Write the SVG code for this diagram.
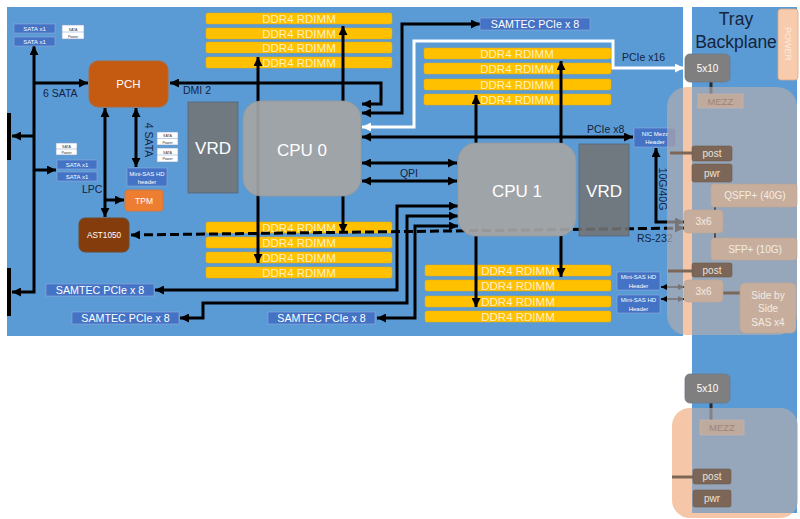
<svg xmlns="http://www.w3.org/2000/svg" width="800" height="519" viewBox="0 0 800 519">
<defs>
<style>
text{font-family:"Liberation Sans",Arial,sans-serif}
.lbl{font-size:10.5px;fill:#14233f}
.mid{text-anchor:middle}
.board{fill:#5B9BD5}
.dimm rect{fill:#FFC000;stroke:#E8AE00;stroke-width:0.5}
.dimm text{fill:#FFF0C2;font-size:11.5px;text-anchor:middle}
.bb{fill:#4472C4;stroke:#8FAADC;stroke-width:0.6}
.bt{fill:#fff;font-size:6px;text-anchor:middle}
.sp rect{fill:#fff;stroke:#7F9CC9;stroke-width:0.6}
.sp line{stroke:#7F9CC9;stroke-width:0.5}
.sp text{fill:#333;font-size:3.6px;text-anchor:middle}
.cpu{fill:#A5A5A5;fill-opacity:0.92;stroke:#989898;stroke-width:0.8}
.vrd{fill:#747474;fill-opacity:0.88;stroke:#56647C;stroke-width:0.8}
.big{fill:#fff;font-size:17px;text-anchor:middle}
.c{stroke:#000;stroke-width:3;fill:none}
.cw{stroke:#fff;stroke-width:3;fill:none}
.cs{stroke:#000;stroke-width:1.6;fill:none}
.tan{fill:#C7AE9C;stroke:#BCA593;stroke-width:0.6}
.tant{fill:#F3EBE4;font-size:10px;text-anchor:middle}
.brn{fill:#7B6657;stroke:#6E5A4C;stroke-width:0.6}
.brnt{fill:#EDE3DA;font-size:10px;text-anchor:middle}
.tc{stroke:#7B6657;stroke-width:3;fill:none}
.ov{fill:#B2ACB0;fill-opacity:0.68}
.peach{fill:#F5C7A8}
</style>
<marker id="ah" viewBox="0 0 10 10" refX="10" refY="5" markerWidth="9" markerHeight="9" markerUnits="userSpaceOnUse" orient="auto-start-reverse"><path d="M0,0 L10,5 L0,10 z" fill="#000"/></marker>
<marker id="ahw" viewBox="0 0 10 10" refX="10" refY="5" markerWidth="9" markerHeight="9" markerUnits="userSpaceOnUse" orient="auto-start-reverse"><path d="M0,0 L10,5 L0,10 z" fill="#fff"/></marker>
<marker id="ahs" viewBox="0 0 10 10" refX="10" refY="5" markerWidth="6" markerHeight="6" markerUnits="userSpaceOnUse" orient="auto-start-reverse"><path d="M0,0 L10,5 L0,10 z" fill="#000"/></marker>
<clipPath id="nogap"><rect x="0" y="0" width="683" height="519"/><rect x="692" y="0" width="108" height="519"/></clipPath>
<clipPath id="tray"><rect x="692" y="0" width="105" height="513"/></clipPath>
</defs>

<rect width="800" height="519" fill="#fff"/>

<!-- mezz card backgrounds (peach) -->
<rect class="peach" x="667" y="87" width="130" height="248" rx="20"/>
<rect class="peach" x="672" y="408" width="126" height="110" rx="18"/>

<!-- board and tray -->
<rect class="board" x="7" y="7" width="676" height="329"/>
<rect class="board" x="692" y="7" width="105" height="506"/>

<!-- DIMMs -->
<g id="ddr-cpu0-top" class="dimm">
<rect x="206" y="13" width="186" height="11" rx="2"/><text x="299" y="22.6">DDR4 RDIMM</text>
<rect x="206" y="28" width="186" height="11" rx="2"/><text x="299" y="37.6">DDR4 RDIMM</text>
<rect x="206" y="42" width="186" height="11" rx="2"/><text x="299" y="51.6">DDR4 RDIMM</text>
<rect x="206" y="57" width="186" height="11" rx="2"/><text x="299" y="66.6">DDR4 RDIMM</text>
</g>
<g id="ddr-cpu1-top" class="dimm">
<rect x="424" y="48" width="187" height="11" rx="2"/><text x="517" y="57.6">DDR4 RDIMM</text>
<rect x="424" y="63" width="187" height="11" rx="2"/><text x="517" y="72.6">DDR4 RDIMM</text>
<rect x="424" y="79" width="187" height="11" rx="2"/><text x="517" y="88.6">DDR4 RDIMM</text>
<rect x="424" y="94" width="187" height="11" rx="2"/><text x="517" y="103.6">DDR4 RDIMM</text>
</g>
<g id="ddr-cpu0-bottom" class="dimm">
<rect x="206" y="222" width="186" height="11" rx="2"/><text x="299" y="231.6">DDR4 RDIMM</text>
<rect x="206" y="237" width="186" height="11" rx="2"/><text x="299" y="246.6">DDR4 RDIMM</text>
<rect x="206" y="252" width="186" height="11" rx="2"/><text x="299" y="261.6">DDR4 RDIMM</text>
<rect x="206" y="267" width="186" height="11" rx="2"/><text x="299" y="276.6">DDR4 RDIMM</text>
</g>
<g id="ddr-cpu1-bottom" class="dimm">
<rect x="425" y="265" width="186" height="11" rx="2"/><text x="518" y="274.6">DDR4 RDIMM</text>
<rect x="425" y="280" width="186" height="11" rx="2"/><text x="518" y="289.6">DDR4 RDIMM</text>
<rect x="425" y="296" width="186" height="11" rx="2"/><text x="518" y="305.6">DDR4 RDIMM</text>
<rect x="425" y="311" width="186" height="11" rx="2"/><text x="518" y="320.6">DDR4 RDIMM</text>
</g>

<!-- connectors -->
<g id="connectors">
<rect x="7" y="113" width="4" height="47" fill="#000"/>
<rect x="7" y="268" width="4" height="48" fill="#000"/>
<path class="c" d="M12,292 L34,292 L34,46" marker-start="url(#ah)" marker-end="url(#ah)"/>
<path class="c" d="M34,83 L88,83" marker-end="url(#ah)"/>
<path class="c" d="M34,136 L12,136" marker-end="url(#ah)"/>
<path class="c" d="M34,170 L56,170" marker-end="url(#ah)"/>
<path class="c" d="M105,108 L105,217" marker-start="url(#ah)" marker-end="url(#ah)"/>
<path class="c" d="M105,200 L124,200" marker-end="url(#ah)"/>
<path class="c" d="M136,108 L136,167" marker-start="url(#ah)" marker-end="url(#ah)"/>
<path class="c" d="M170,83 L381,83 L381,104 L362,104" marker-start="url(#ah)" marker-end="url(#ah)"/>
<path class="c" d="M362,113 L402,113 L402,24 L480,24" marker-start="url(#ah)" marker-end="url(#ah)"/>
<path class="cw" d="M362,127 L414,127 L414,41 L613,41 L613,68 L684,68" marker-start="url(#ahw)" marker-end="url(#ahw)"/>
<path class="c" d="M362,137 L633,137" marker-start="url(#ah)" marker-end="url(#ah)"/>
<path class="c" d="M362,163 L457,163" marker-start="url(#ah)" marker-end="url(#ah)"/>
<path class="c" d="M362,181 L457,181" marker-start="url(#ah)" marker-end="url(#ah)"/>
<path class="c" d="M258,57 L258,263" marker-start="url(#ah)" marker-end="url(#ah)"/>
<path class="c" d="M343,101 L343,26" marker-end="url(#ah)"/>
<path class="c" d="M343,196 L343,233" marker-end="url(#ah)"/>
<path class="c" d="M476,143 L476,95" marker-end="url(#ah)"/>
<path class="c" d="M561,143 L561,61" marker-end="url(#ah)"/>
<path class="c" d="M476,236 L476,307" marker-end="url(#ah)"/>
<path class="c" d="M561,236 L561,277" marker-end="url(#ah)"/>
<path class="c" d="M458,206 L397,206 L397,290 L155,290" marker-start="url(#ah)" marker-end="url(#ah)"/>
<path class="c" d="M458,216 L407,216 L407,303 L203,303 L203,318 L180,318" marker-start="url(#ah)" marker-end="url(#ah)"/>
<path class="c" d="M458,226 L415,226 L415,318 L377,318" marker-start="url(#ah)" marker-end="url(#ah)"/>
<path class="c" d="M656,148 L656,222 L684,222" marker-start="url(#ah)" marker-end="url(#ah)"/>
<path class="c" d="M131,235 L684,228" stroke-dasharray="9 4" marker-start="url(#ah)" marker-end="url(#ah)"/>
<path class="cs" d="M661,287 L684,287" marker-start="url(#ahs)" marker-end="url(#ahs)"/>
<path class="cs" d="M661,299 L684,299" marker-start="url(#ahs)" marker-end="url(#ahs)"/>
<path d="M711,82 L711,94" stroke="#2a2a2a" stroke-width="3"/>
<path d="M711,403 L711,420" stroke="#2a2a2a" stroke-width="3"/>
</g>

<!-- labels -->
<g id="labels">
<text class="lbl" x="43" y="97">6 SATA</text>
<text class="lbl" x="183" y="94">DMI 2</text>
<text class="lbl" x="82" y="193">LPC</text>
<text class="lbl mid" transform="translate(145,140) rotate(90)">4 SATA</text>
<text class="lbl mid" x="409" y="177">QPI</text>
<text class="lbl" x="587" y="133">PCIe x8</text>
<text class="lbl" x="622" y="61">PCIe x16</text>
<text class="lbl" x="637" y="242">RS-232</text>
<text class="lbl mid" transform="translate(659,189) rotate(90)">10G/40G</text>
</g>

<!-- nodes -->
<g id="sata-top1"><rect class="bb" x="14" y="24" width="41" height="9"/><text class="bt" x="34.5" y="31">SATA x1</text></g>
<g id="sata-top2"><rect class="bb" x="14" y="37" width="41" height="9"/><text class="bt" x="34.5" y="44">SATA x1</text></g>
<g id="satapwr-top" class="sp"><rect x="62" y="25" width="22" height="14"/><line x1="62" y1="32" x2="84" y2="32"/><text x="73" y="30.5">SATA</text><text x="73" y="37.5">Power</text></g>
<g id="satapwr-mid" class="sp"><rect x="56" y="143" width="21" height="12"/><line x1="56" y1="149" x2="77" y2="149"/><text x="66.5" y="147.8">SATA</text><text x="66.5" y="153.8">Power</text></g>
<g id="sata-mid1"><rect class="bb" x="57" y="160" width="40" height="9"/><text class="bt" x="77" y="167">SATA x1</text></g>
<g id="sata-mid2"><rect class="bb" x="57" y="172" width="40" height="9"/><text class="bt" x="77" y="179">SATA x1</text></g>
<g id="satapwr-r1" class="sp"><rect x="157" y="132" width="21" height="13"/><line x1="157" y1="138.5" x2="178" y2="138.5"/><text x="167.5" y="137.3">SATA</text><text x="167.5" y="143.6">Power</text></g>
<g id="satapwr-r2" class="sp"><rect x="157" y="148" width="21" height="14"/><line x1="157" y1="155" x2="178" y2="155"/><text x="167.5" y="153.6">SATA</text><text x="167.5" y="160.4">Power</text></g>

<g id="pch"><rect x="89" y="61" width="79" height="46" rx="9" fill="#C55A11" stroke="#AE6A3A"/><text x="128.5" y="88" fill="#fff" font-size="11.5" text-anchor="middle">PCH</text></g>
<g id="minisas-left"><rect class="bb" x="127" y="168" width="40" height="18"/><text class="bt" x="147" y="175.5">Mini-SAS HD</text><text class="bt" x="147" y="183.5">header</text></g>
<g id="tpm"><rect x="125" y="190" width="38" height="21" rx="3" fill="#ED7D31" stroke="#D6773A"/><text x="144" y="204" fill="#fff" font-size="8.5" text-anchor="middle">TPM</text></g>
<g id="ast1050"><rect x="79" y="218" width="50" height="34" rx="6" fill="#843C0C" stroke="#6E4A2A"/><text x="104" y="238" fill="#fff" font-size="8.2" text-anchor="middle">AST1050</text></g>

<g id="vrd0"><rect class="vrd" x="188" y="102" width="50" height="91"/><text class="big" x="213" y="154">VRD</text></g>
<g id="cpu0"><rect class="cpu" x="243" y="101" width="118" height="95" rx="18"/><text class="big" x="302" y="156">CPU 0</text></g>
<g id="cpu1"><rect class="cpu" x="458" y="143" width="118" height="93" rx="18"/><text class="big" x="517" y="197">CPU 1</text></g>
<g id="vrd1"><rect class="vrd" x="579" y="144" width="50" height="92"/><text class="big" x="604" y="197">VRD</text></g>

<g id="samtec-top"><rect class="bb" x="480" y="18" width="110" height="12"/><text x="535" y="28" fill="#fff" font-size="10.7" text-anchor="middle">SAMTEC PCIe x 8</text></g>
<g id="samtec-b1"><rect class="bb" x="46" y="284" width="108" height="12"/><text x="100" y="294" fill="#fff" font-size="10.7" text-anchor="middle">SAMTEC PCIe x 8</text></g>
<g id="samtec-b2"><rect class="bb" x="72" y="312" width="107" height="12"/><text x="125.5" y="322" fill="#fff" font-size="10.7" text-anchor="middle">SAMTEC PCIe x 8</text></g>
<g id="samtec-b3"><rect class="bb" x="268" y="312" width="107" height="12"/><text x="321.5" y="322" fill="#fff" font-size="10.7" text-anchor="middle">SAMTEC PCIe x 8</text></g>

<g id="nic-mezz"><rect class="bb" x="634" y="128" width="42" height="19"/><text class="bt" x="655" y="136">NIC Mezz</text><text class="bt" x="655" y="143.5">Header</text></g>
<g id="minisas-r1"><rect class="bb" x="617" y="272" width="43" height="18"/><text class="bt" x="638.5" y="279">Mini-SAS HD</text><text class="bt" x="638.5" y="287.5">Header</text></g>
<g id="minisas-r2"><rect class="bb" x="617" y="295" width="43" height="18"/><text class="bt" x="638.5" y="302">Mini-SAS HD</text><text class="bt" x="638.5" y="310.5">Header</text></g>

<!-- translucent mezz overlays -->
<rect class="ov" x="667" y="87" width="130" height="248" rx="20" clip-path="url(#nogap)"/>
<rect class="ov" x="672" y="408" width="126" height="110" rx="18" clip-path="url(#tray)"/>

<!-- tray backplane -->
<g id="tray-title"><text x="736" y="25" fill="#15243d" font-size="17.5" text-anchor="middle">Tray</text><text x="736" y="48" fill="#15243d" font-size="17.5" text-anchor="middle">Backplane</text></g>
<g id="power"><rect x="778" y="9" width="20" height="71" rx="3" fill="#F8CBAD" stroke="#D9A88A" stroke-width="0.8"/><text transform="translate(784.8,44) rotate(90)" fill="#FCEBDF" font-size="9" text-anchor="middle">POWER</text></g>

<g id="tray-connectors">
<path class="tc" d="M670,153 L692,153"/>
<path class="tc" d="M668,271 L692,271"/>
<path class="tc" d="M672,477 L693,477"/>
<path class="tc" d="M723,293 L740,293"/>
<path d="M715,207 L715,210 M715,233 L715,238" stroke="#5B4B40" stroke-width="2"/>
</g>

<g id="x5x10-a"><rect x="685" y="54" width="45" height="28" rx="5" fill="#7F7F7F" stroke="#6D7A8C" stroke-width="0.8"/><text x="707.5" y="72" fill="#fff" font-size="10" text-anchor="middle">5x10</text></g>
<g id="mezz-a"><rect x="698" y="94" width="45" height="14" fill="#BFAA9E" stroke="#C9B6AB" stroke-width="0.6"/><text x="720.5" y="104.5" fill="#A08575" font-size="9.5" text-anchor="middle">MEZZ</text></g>
<g id="post-a"><rect class="brn" x="692" y="146" width="40" height="15" rx="2"/><text class="brnt" x="712" y="157">post</text></g>
<g id="pwr-a"><rect class="brn" x="692" y="164" width="40" height="18" rx="2"/><text class="brnt" x="712" y="177">pwr</text></g>
<g id="qsfp"><rect class="tan" x="711" y="184" width="86" height="23" rx="3"/><text class="tant" x="755" y="199">QSFP+ (40G)</text></g>
<g id="x3x6-a"><rect class="tan" x="684" y="210" width="39" height="23" rx="4"/><text class="tant" x="703.5" y="225">3x6</text></g>
<g id="sfp"><rect class="tan" x="711" y="238" width="86" height="22" rx="3"/><text class="tant" x="755" y="252.5">SFP+ (10G)</text></g>
<g id="post-b"><rect class="brn" x="692" y="263" width="40" height="14" rx="2"/><text class="brnt" x="712" y="273.5">post</text></g>
<g id="x3x6-b"><rect class="tan" x="684" y="280" width="39" height="22" rx="4"/><text class="tant" x="703.5" y="294.5">3x6</text></g>
<g id="sidebyside"><rect class="tan" x="740" y="283" width="56" height="50" rx="5"/><text class="tant" x="768" y="298.5">Side by</text><text class="tant" x="768" y="312">Side</text><text class="tant" x="768" y="325.5">SAS x4</text></g>

<g id="x5x10-b"><rect x="685" y="374" width="45" height="29" rx="5" fill="#7F7F7F" stroke="#6D7A8C" stroke-width="0.8"/><text x="707.5" y="392" fill="#fff" font-size="10" text-anchor="middle">5x10</text></g>
<g id="mezz-b"><rect x="700" y="420" width="44" height="15" fill="#BFAA9E" stroke="#C9B6AB" stroke-width="0.6"/><text x="722" y="431" fill="#A08575" font-size="9.5" text-anchor="middle">MEZZ</text></g>
<g id="post-c"><rect class="brn" x="693" y="469" width="38" height="15" rx="2"/><text class="brnt" x="712" y="480">post</text></g>
<g id="pwr-c"><rect class="brn" x="693" y="490" width="38" height="17" rx="2"/><text class="brnt" x="712" y="502">pwr</text></g>
</svg>
